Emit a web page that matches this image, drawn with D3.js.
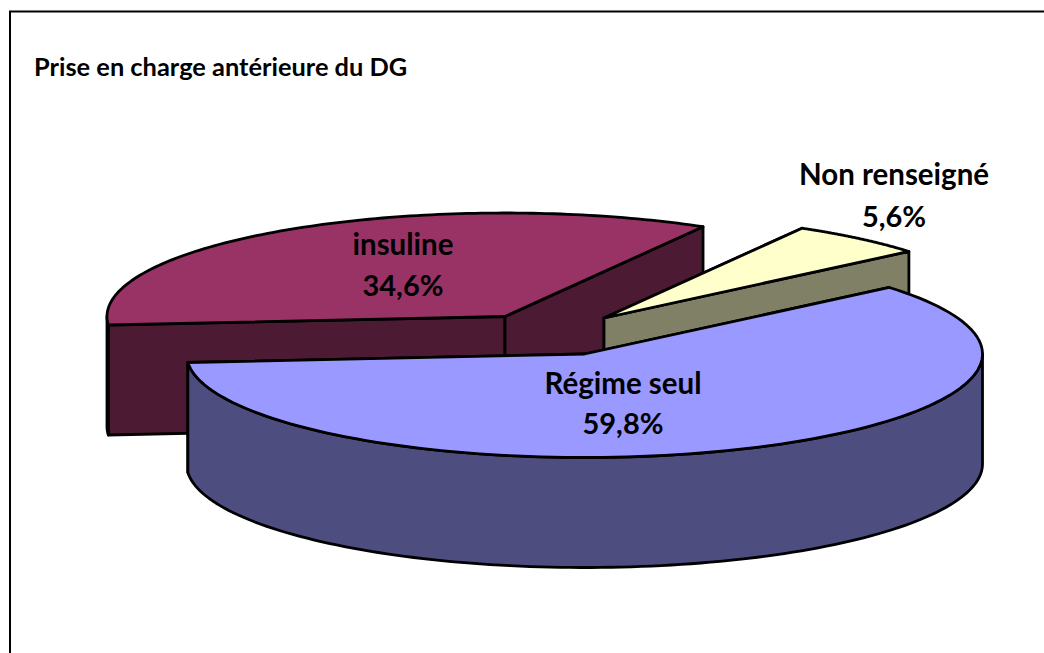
<!DOCTYPE html>
<html><head><meta charset="utf-8">
<script src="https://cdn.jsdelivr.net/npm/d3@7"></script>
<style>html,body{margin:0;padding:0;background:#fff;overflow:hidden}svg{display:block}text{font-family:Lato,"Noto Sans",sans-serif;font-weight:700;fill:#000}</style>
</head><body>
<script>
const categories = ["Régime seul", "insuline", "Non renseigné"];
const values = [59.8, 34.6, 5.6];
const valueLabels = ["59,8%", "34,6%", "5,6%"];
const topColors = ["#9999ff", "#993366", "#ffffcc"];
const sideColors = ["#4d4d80", "#4d1a33", "#808066"];
const titleText = "Prise en charge antérieure du DG";

const W = 1044, H = 653;
const svg = d3.select("body").append("svg").attr("width", W).attr("height", H);
svg.append("rect").attr("width", W).attr("height", H).attr("fill", "#fff");
svg.append("path").attr("d", `M10,${H}V11.5H${W}`).attr("fill", "none").attr("stroke", "#000").attr("stroke-width", 2);

const rx = 398, ry = 103.5, depth = 110, sw = 2.8;
const apex = [[584.5, 354], [505, 316.5], [604, 318]];
const labelPos = [[623, 384, 424], [403, 245, 286], [894, 175, 217]];
const pie = d3.pie().sort(null).value(d => d).startAngle(50 * Math.PI / 180).endAngle((360 + 50) * Math.PI / 180);
const arcs = pie(values);
const line = d3.line();
const pt = (c, a, dz = 0) => [c[0] + rx * Math.sin(a), c[1] - ry * Math.cos(a) + dz];
const arcPts = (c, a0, a1, dz = 0) => d3.range(0, 121).map(i => pt(c, a0 + (a1 - a0) * i / 120, dz));
const poly = (pts, fill) => svg.append("path").attr("d", line(pts) + "Z").attr("fill", fill)
  .attr("stroke", "#000").attr("stroke-width", sw).attr("stroke-linejoin", "round");

[1, 2, 0].forEach(i => {
  const c = apex[i], a0 = arcs[i].startAngle, a1 = arcs[i].endAngle;
  const cb = [c[0], c[1] + depth];
  const side = sideColors[i];
  // radial walls
  poly([c, pt(c, a0), pt(c, a0, depth), cb], side);
  poly([c, pt(c, a1), pt(c, a1, depth), cb], side);
  // outer rim: only the part facing the viewer
  const ranges = [[Math.PI / 2, 3 * Math.PI / 2], [5 * Math.PI / 2, 7 * Math.PI / 2]];
  ranges.forEach(([lo, hi]) => {
    const s = Math.max(a0, lo), e = Math.min(a1, hi);
    if (s < e) poly(arcPts(c, s, e).concat(arcPts(c, s, e, depth).reverse()), side);
  });
  // top face
  poly([c].concat(arcPts(c, a0, a1)), topColors[i]);
});

svg.append("text").attr("x", 34).attr("y", 76).attr("font-size", 25.4).text(titleText);
categories.forEach((d, i) => {
  const [x, y1, y2] = labelPos[i];
  svg.append("text").attr("x", x).attr("y", y1 + 10).attr("text-anchor", "middle").attr("font-size", 29.5).text(d);
  svg.append("text").attr("x", x).attr("y", y2 + 10).attr("text-anchor", "middle").attr("font-size", 29).text(valueLabels[i]);
});
</script>
</body></html>
